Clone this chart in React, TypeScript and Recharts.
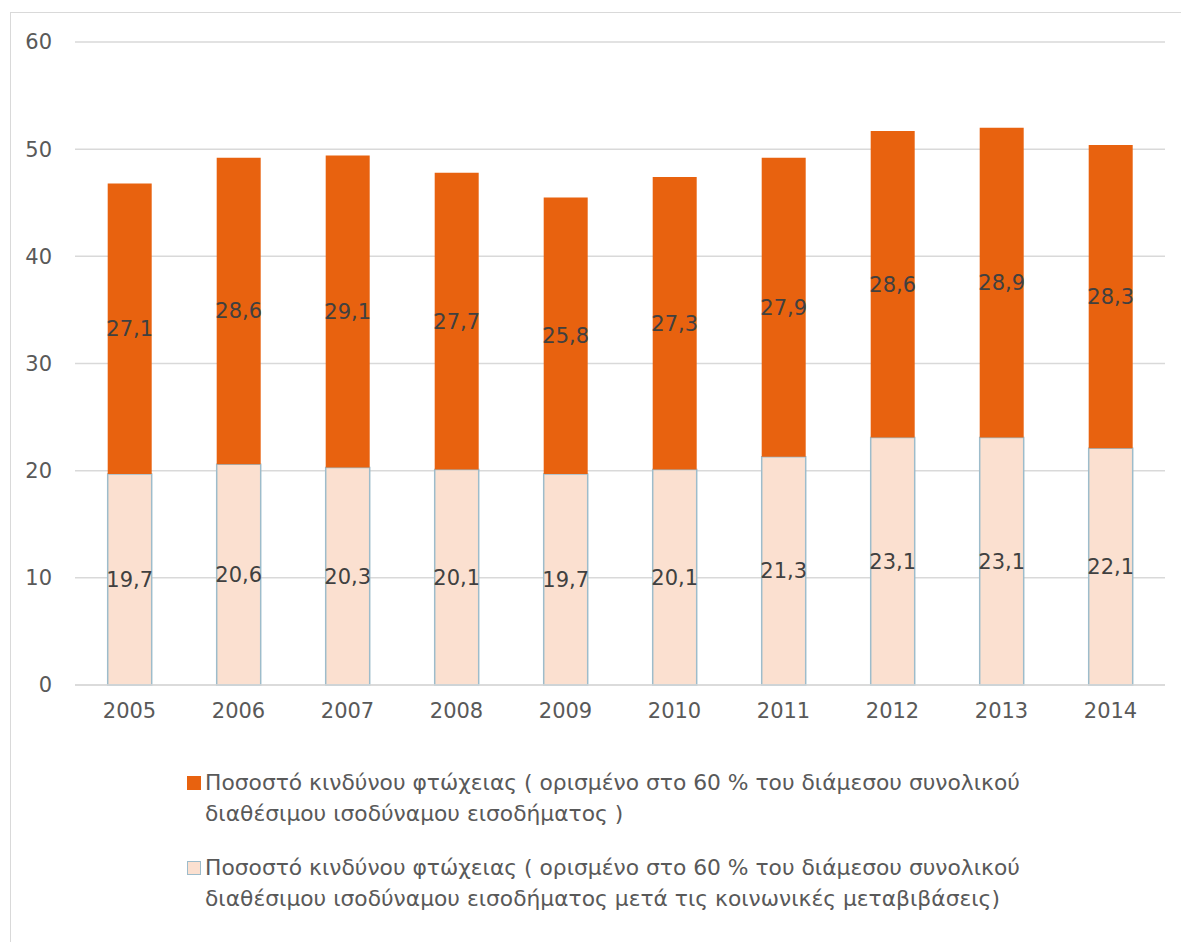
import React from 'react'
import { BarChart, Bar, XAxis, YAxis, CartesianGrid, Legend, LabelList } from 'recharts'

const ORANGE = '#e8620f'
const PEACH = '#fbe0d0'
const PEACH_EDGE = '#9dbccb'
const GRID = '#d9d9d9'
const FONT = '"DejaVu Sans", sans-serif'
const FS = 21

const years = ['2005', '2006', '2007', '2008', '2009', '2010', '2011', '2012', '2013', '2014']
// μετά τις κοινωνικές μεταβιβάσεις (κάτω τμήμα)
const afterTransfers = [19.7, 20.6, 20.3, 20.1, 19.7, 20.1, 21.3, 23.1, 23.1, 22.1]
// πάνω τμήμα
const beforeTransfers = [27.1, 28.6, 29.1, 27.7, 25.8, 27.3, 27.9, 28.6, 28.9, 28.3]
const yTicks = [0, 10, 20, 30, 40, 50, 60]

const nameTop =
  'Ποσοστό κινδύνου φτώχειας ( ορισμένο στο 60 % του διάμεσου συνολικού\nδιαθέσιμου ισοδύναμου εισοδήματος )'
const nameBottom =
  'Ποσοστό κινδύνου φτώχειας ( ορισμένο στο 60 % του διάμεσου συνολικού\nδιαθέσιμου ισοδύναμου εισοδήματος μετά τις κοινωνικές μεταβιβάσεις)'

const data = years.map((y, i) => ({ year: y, after: afterTransfers[i], before: beforeTransfers[i] }))

const fmt = (v: any) => String(v).replace('.', ',')

function LegendBox() {
  const items = [
    { name: nameTop, fill: ORANGE, stroke: ORANGE },
    { name: nameBottom, fill: PEACH, stroke: PEACH_EDGE },
  ]
  return (
    <div style={{ fontFamily: FONT, fontSize: 21.8, color: '#595959', lineHeight: '31px', textAlign: 'left' }}>
      {items.map((it, i) => (
        <div key={i} style={{ display: 'flex', alignItems: 'flex-start', marginBottom: i === 0 ? 23 : 0 }}>
          <span
            style={{
              display: 'inline-block', flex: 'none', width: 12, height: 12, marginTop: 9, marginRight: 4,
              background: it.fill, border: `1px solid ${it.stroke}`,
            }}
          />
          <span style={{ whiteSpace: 'pre-line' }}>{it.name}</span>
        </div>
      ))}
    </div>
  )
}

export default function App() {
  return (
    <div style={{ position: 'absolute', left: 0, top: 0, width: 1181, height: 942, background: '#fff', overflow: 'hidden' }}>
      <div style={{ position: 'absolute', left: 10, top: 12, width: 1190, height: 960, border: `1px solid ${GRID}` }} />
      <BarChart
        width={1181}
        height={942}
        data={data}
        margin={{ top: 42, right: 16, left: 0, bottom: 217 }}
        barCategoryGap="30%"
        style={{ position: 'absolute', left: 0, top: 0 }}
      >
        <CartesianGrid vertical={false} stroke={GRID} strokeWidth={1.5} />
        <XAxis
          dataKey="year"
          height={40}
          tickLine={false}
          axisLine={{ stroke: GRID, strokeWidth: 1.5 }}
          tickMargin={12}
          tick={{ fontSize: FS, fill: '#595959', fontFamily: FONT }}
        />
        <YAxis
          width={75}
          domain={[0, 60]}
          ticks={yTicks}
          axisLine={false}
          tickLine={false}
          tickMargin={17}
          tick={{ fontSize: FS, fill: '#595959', fontFamily: FONT }}
        />
        <Legend
          layout="horizontal"
          verticalAlign="middle"
          wrapperStyle={{ left: 187, top: 767, width: 990 }}
          content={() => <LegendBox />}
        />
        <Bar dataKey="after" name={nameBottom} stackId="s" fill={PEACH} stroke={PEACH_EDGE} strokeWidth={1.5} isAnimationActive={false}>
          <LabelList dataKey="after" position="center" formatter={fmt} fill="#404040" fontSize={FS} fontFamily={FONT} />
        </Bar>
        <Bar dataKey="before" name={nameTop} stackId="s" fill={ORANGE} isAnimationActive={false}>
          <LabelList dataKey="before" position="center" formatter={fmt} fill="#404040" fontSize={FS} fontFamily={FONT} />
        </Bar>
      </BarChart>
    </div>
  )
}
